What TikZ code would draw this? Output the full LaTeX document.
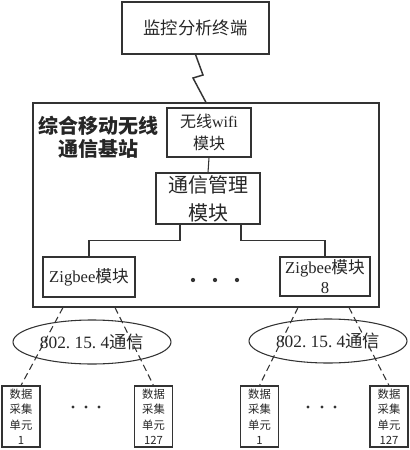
\documentclass[tikz,border=0pt]{standalone}
\usepackage{fontspec}
\setmainfont{Liberation Serif}
\newfontfamily\cjk{Noto Sans CJK SC}
\usetikzlibrary{calc,shapes.geometric}
\definecolor{linegray}{HTML}{333333}
\definecolor{textgray}{HTML}{262626}

\begin{document}
\begin{tikzpicture}[x=0.75pt,y=-0.75pt,
  box/.style={draw=linegray, line width=0.8pt, inner sep=1pt, align=center, text=textgray},
  link/.style={draw=linegray, line width=0.8pt},
  radio/.style={draw=linegray, line width=0.8pt, dash pattern=on 5pt off 3pt},
  unitbox/.style={box, minimum width=28.5pt, minimum height=45.75pt, font=\fontsize{8.5}{11.6}\selectfont\cjk}]
\useasboundingbox (0,0) rectangle (410,450);
% terminal and base station
\node[box, minimum width=110.25pt, minimum height=39pt, font=\fontsize{13}{15}\selectfont\cjk] (term) at (195.5,28) {监控分析终端};
\node[box, minimum width=259.5pt, minimum height=153pt] (station) at (206,205) {};
\node[align=center, text=textgray, font=\fontsize{15}{17}\selectfont\bfseries\cjk] (stationlabel) at (98,137.5) {综合移动无线\\通信基站};
\node[box, minimum width=63pt, minimum height=36.75pt, font=\fontsize{12}{17}\selectfont] (wifi) at (209,132.5) {{\cjk 无线}wifi\\{\cjk 模块}};
\node[box, minimum width=78pt, minimum height=38.25pt, font=\fontsize{15}{21}\selectfont\cjk] (mgr) at (208,198.5) {通信管理\\模块};
\node[box, minimum width=69pt, minimum height=30pt, font=\fontsize{12.5}{15}\selectfont] (zbA) at (89,277) {Zigbee{\cjk 模块}};
\node[box, minimum width=67.5pt, minimum height=29.25pt, font=\fontsize{12.5}{15}\selectfont] (zbB) at (325,276.5) {Zigbee{\cjk 模块}\\8};
\foreach \x in {193,215,237}
  \fill[linegray] (\x,280) circle (1.6pt);
% wireless link
\draw[link, line width=1.1pt, line join=miter] (term.south) -- (203,75) -- (193,78) -- (station.north);
% internal wiring
\draw[link] (wifi.south) -- (mgr.north);
\draw[link] ($(mgr.south)+(-28,0)$) -- ++(0,16) -| (zbA.north);
\draw[link] ($(mgr.south)+(33,0)$) -- ++(0,16) -| (zbB.north);
% 802.15.4 networks
\node[ellipse, draw=linegray, line width=0.8pt, minimum width=118.5pt, minimum height=33pt, inner sep=0pt, text=textgray, font=\fontsize{13}{15}\selectfont] (netA) at (92,342) {802.\ 15.\ 4{\cjk 通信}};
\node[ellipse, draw=linegray, line width=0.8pt, minimum width=118.5pt, minimum height=33pt, inner sep=0pt, text=textgray, font=\fontsize{13}{15}\selectfont] (netB) at (328,341) {802.\ 15.\ 4{\cjk 通信}};
\foreach \name/\x/\num in {duA1/21/1,duA2/153.5/127,duB1/259.5/1,duB2/389/127}
  \node[unitbox] (\name) at (\x,416.5) {数据\\采集\\单元\\\num};
\foreach \x in {73,86,99,308,322,335}
  \fill[linegray] (\x,407) circle (1.2pt);
\coordinate (zbAl) at ($(zbA.south)+(-26,0)$);
\coordinate (zbAr) at ($(zbA.south)+(26,0)$);
\coordinate (zbBl) at ($(zbB.south)+(-27,0)$);
\coordinate (zbBr) at ($(zbB.south)+(24,0)$);
\draw[radio] (zbAl |- station.south) -- (duA1.north);
\draw[radio] (zbAr |- station.south) -- (duA2.north);
\draw[radio] (zbBl |- station.south) -- (duB1.north);
\draw[radio] (zbBr |- station.south) -- (duB2.north);
\end{tikzpicture}
\end{document}
